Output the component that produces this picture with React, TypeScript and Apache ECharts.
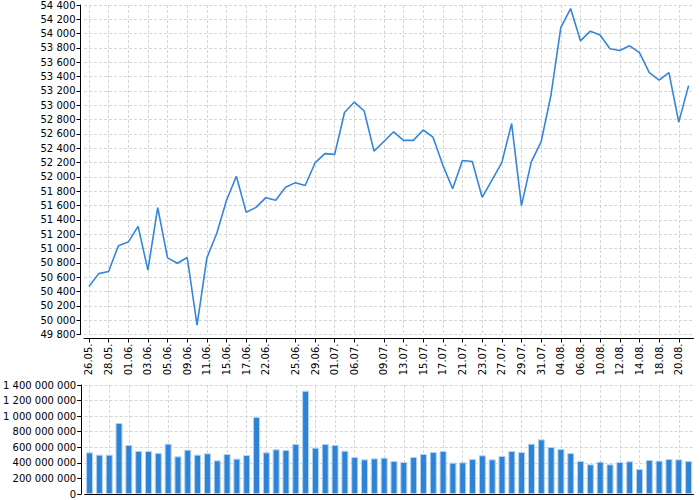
import { useEffect, useRef } from 'react';
import * as echarts from 'echarts';

const dates = [
  '26.05.', '27.05.', '28.05.', '29.05.', '01.06.', '02.06.', '03.06.', '04.06.', '05.06.', '08.06.',
  '09.06.', '10.06.', '11.06.', '12.06.', '15.06.', '16.06.', '17.06.', '18.06.', '22.06.', '23.06.',
  '24.06.', '25.06.', '26.06.', '29.06.', '30.06.', '01.07.', '02.07.', '06.07.', '07.07.', '08.07.',
  '09.07.', '10.07.', '13.07.', '14.07.', '15.07.', '16.07.', '17.07.', '20.07.', '21.07.', '22.07.',
  '23.07.', '24.07.', '27.07.', '28.07.', '29.07.', '30.07.', '31.07.', '03.08.', '04.08.', '05.08.',
  '06.08.', '07.08.', '10.08.', '11.08.', '12.08.', '13.08.', '14.08.', '17.08.', '18.08.', '19.08.',
  '20.08.', '21.08.',
];

// dates that carry a label, tick and vertical grid line
const shownDates = [
  '26.05.', '28.05.', '01.06.', '03.06.', '05.06.', '09.06.', '11.06.', '15.06.', '17.06.', '22.06.',
  '25.06.', '29.06.', '01.07.', '06.07.', '09.07.', '13.07.', '15.07.', '17.07.', '21.07.', '23.07.',
  '27.07.', '29.07.', '31.07.', '04.08.', '06.08.', '10.08.', '12.08.', '14.08.', '18.08.', '20.08.',
];

const closeValues = [
  50470, 50650, 50680, 51040, 51090, 51310, 50700, 51570, 50870, 50795,
  50875, 49930, 50870, 51210, 51675, 52010, 51505, 51575, 51710, 51675,
  51855, 51920, 51880, 52195, 52325, 52315, 52900, 53045, 52920, 52360,
  52495, 52630, 52510, 52510, 52655, 52555, 52165, 51835, 52230, 52215,
  51715, 51955, 52200, 52745, 51600, 52210, 52490, 53140, 54085, 54350,
  53900, 54035, 53980, 53790, 53765, 53830, 53735, 53455, 53350, 53455,
  52765, 53275,
];

const volumeValues = [
  535e6, 505e6, 505e6, 912e6, 629e6, 552e6, 552e6, 526e6, 646e6, 484e6,
  569e6, 505e6, 522e6, 432e6, 514e6, 454e6, 501e6, 989e6, 535e6, 574e6,
  565e6, 642e6, 1326e6, 595e6, 642e6, 629e6, 556e6, 475e6, 445e6, 458e6,
  466e6, 424e6, 411e6, 475e6, 514e6, 539e6, 552e6, 402e6, 407e6, 449e6,
  497e6, 445e6, 488e6, 552e6, 539e6, 646e6, 702e6, 603e6, 578e6, 526e6,
  424e6, 381e6, 415e6, 381e6, 411e6, 420e6, 321e6, 437e6, 428e6, 449e6,
  445e6, 424e6,
];

const FONT = 'DejaVu Sans';
const isShown = (_i: number, value: string) => shownDates.includes(value);
const spaced = (v: number) => String(Math.round(v)).replace(/\B(?=(\d{3})+(?!\d))/g, ' ');

const gridLine = { show: true, lineStyle: { color: '#d6d6d6', type: [3, 2] as number[], width: 1 } };
// vertical grid lines only under the labelled dates, centred on them
const vGridLine = { ...gridLine, interval: isShown, alignWithLabel: true, showMinLine: true, showMaxLine: true } as any;
const blackLine = { show: true, onZero: false, lineStyle: { color: '#000', width: 1 } };

export default function App() {
  const chartRef = useRef<HTMLDivElement>(null);

  useEffect(() => {
    if (!chartRef.current) return;
    const chart = echarts.init(chartRef.current, null, { renderer: 'svg' });

    const option: echarts.EChartsOption = {
      animation: false,
      backgroundColor: '#fff',
      grid: [
        { left: 84, right: 6.5, top: 5, height: 329.5 },
        { left: 84, right: 6.5, top: 385, height: 109 },
      ],
      xAxis: [
        {
          type: 'category',
          gridIndex: 0,
          data: dates,
          boundaryGap: true,
          offset: 4,
          axisLine: blackLine,
          axisTick: { show: true, alignWithLabel: true, interval: isShown, length: 4, lineStyle: { color: '#000' } },
          axisLabel: {
            interval: isShown,
            rotate: 90,
            margin: 5,
            color: '#000',
            fontFamily: FONT,
            fontSize: 10,
          },
          splitLine: vGridLine,
        },
        {
          type: 'category',
          gridIndex: 1,
          data: dates,
          boundaryGap: true,
          axisLine: blackLine,
          axisTick: { show: false },
          axisLabel: { show: false },
          splitLine: vGridLine,
        },
      ],
      yAxis: [
        {
          type: 'value',
          gridIndex: 0,
          min: 49800,
          max: 54400,
          interval: 200,
          offset: 3.5,
          axisLine: blackLine,
          axisTick: { show: true, length: 4, lineStyle: { color: '#000' } },
          axisLabel: { margin: 5, color: '#000', fontFamily: FONT, fontSize: 10, formatter: spaced },
          splitLine: gridLine,
        },
        {
          type: 'value',
          gridIndex: 1,
          min: 0,
          max: 1400000000,
          interval: 200000000,
          offset: 3.5,
          axisLine: blackLine,
          axisTick: { show: true, length: 4, lineStyle: { color: '#000' } },
          axisLabel: { margin: 5, color: '#000', fontFamily: FONT, fontSize: 10, formatter: spaced },
          splitLine: gridLine,
        },
      ],
      series: [
        {
          type: 'line',
          xAxisIndex: 0,
          yAxisIndex: 0,
          data: closeValues,
          showSymbol: false,
          symbol: 'none',
          lineStyle: { color: '#3585d9', width: 1.6 },
        },
        {
          type: 'bar',
          xAxisIndex: 1,
          yAxisIndex: 1,
          data: volumeValues,
          barWidth: 7,
          itemStyle: { color: '#2e83d7', borderColor: '#b3d3f1', borderWidth: 1 },
        },
      ],
    };

    chart.setOption(option);
    return () => chart.dispose();
  }, []);

  return (
    <div
      ref={chartRef}
      style={{ position: 'fixed', left: 0, top: 0, width: 700, height: 500 }}
    />
  );
}
